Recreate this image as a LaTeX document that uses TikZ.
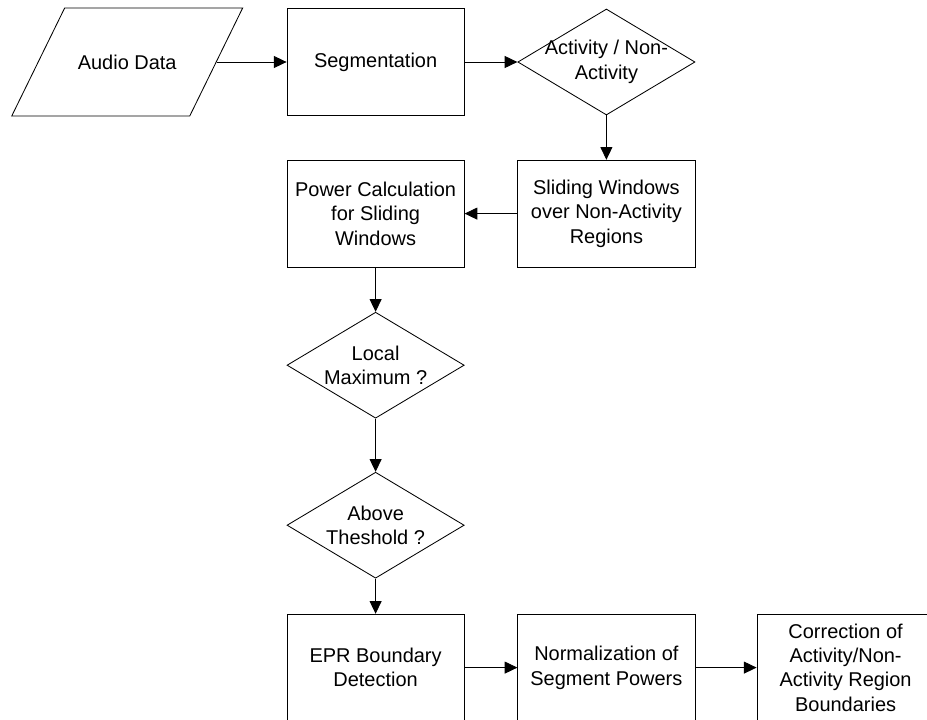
\documentclass[tikz,border=0pt]{standalone}
\usepackage{fontspec}
\setmainfont{Liberation Sans}
\usetikzlibrary{arrows.meta, shapes.geometric}
\tikzset{
  every picture/.style={font=\fontsize{14.2pt}{17.4pt}\selectfont, line width=0.6pt},
  box/.style={draw, rectangle, align=center, inner sep=0pt, minimum width=4.43cm, minimum height=2.67cm},
  decision/.style={draw, diamond, inner sep=0pt, minimum width=4.43cm, minimum height=2.65cm},
  iobox/.style={draw, rectangle, transform shape, xslant=0.49, inner sep=0pt, minimum width=4.45cm, minimum height=2.7cm},
  txt/.style={align=center, inner sep=0pt},
  arrow/.style={-{Triangle[length=9pt, width=8.5pt]}},
}

\begin{document}
\begin{tikzpicture}
  \useasboundingbox (0,0) rectangle (23.175,-17.975);
  % top row
  \node[iobox] (audio) at (3.18,-1.55) {};
  \node[txt] (audiolabel) at (audio) {Audio Data};
  \node[box] (seg) at (9.39,-1.55) {Segmentation};
  \node[decision] (act) at (15.16,-1.55) {};
  \node[txt] (actlabel) at (act) {Activity / Non-\\Activity};
  % second row
  \node[box] (slide) at (15.16,-5.34) {Sliding Windows\\over Non-Activity\\Regions};
  \node[box] (power) at (9.39,-5.34) {Power Calculation\\for Sliding\\Windows};
  % checks
  \node[decision] (locmax) at (9.39,-9.13) {};
  \node[txt] (locmaxlabel) at (locmax) {Local\\Maximum ?};
  \node[decision] (thresh) at (9.39,-13.13) {};
  \node[txt] (threshlabel) at (thresh) {Above\\Theshold ?};
  % bottom row
  \node[box] (epr) at (9.39,-16.69) {EPR Boundary\\Detection};
  \node[box] (norm) at (15.16,-16.69) {Normalization of\\Segment Powers};
  \node[box] (corr) at (21.14,-16.69) {Correction of\\Activity/Non-\\Activity Region\\Boundaries};

  \draw[arrow] (audio.east) -- (seg.west);
  \draw[arrow] (seg.east) -- (act.west);
  \draw[arrow] (act.south) -- (slide.north);
  \draw[arrow] (slide.west) -- (power.east);
  \draw[arrow] (power.south) -- (locmax.north);
  \draw[arrow] (locmax.south) -- (thresh.north);
  \draw[arrow] (thresh.south) -- (epr.north);
  \draw[arrow] (epr.east) -- (norm.west);
  \draw[arrow] (norm.east) -- (corr.west);
\end{tikzpicture}
\end{document}
